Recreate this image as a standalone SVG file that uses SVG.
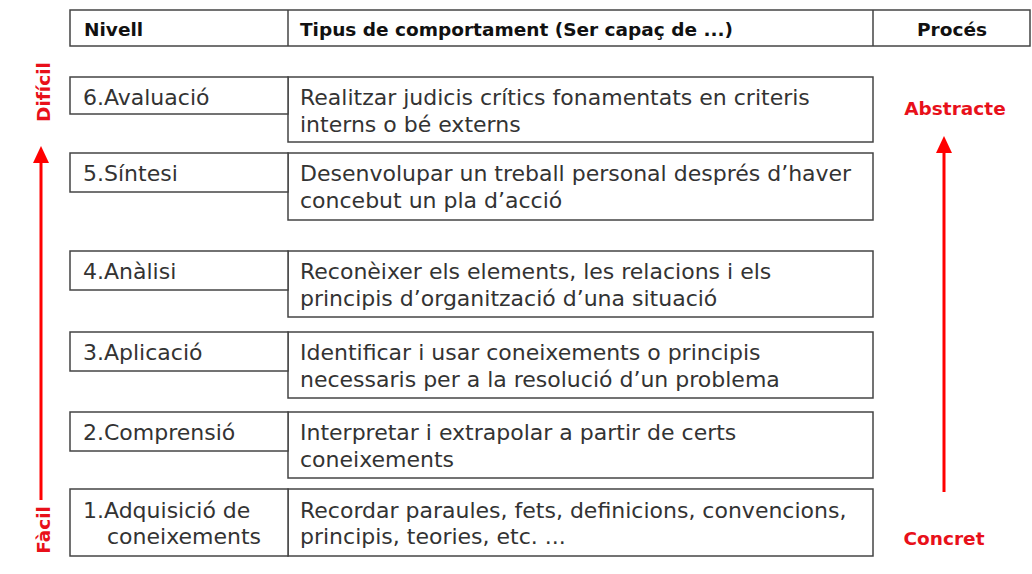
<svg xmlns="http://www.w3.org/2000/svg" width="1032" height="574" viewBox="0 0 1032 574">
<style>
.box{fill:#fff;stroke:#444;stroke-width:1.5}
.h{font-family:"DejaVu Sans",Verdana,sans-serif;font-weight:bold;font-size:18.5px;fill:#111}
.t{font-family:"DejaVu Sans",Verdana,sans-serif;font-size:22px;fill:#333}
.r{font-family:"DejaVu Sans",Verdana,sans-serif;font-weight:bold;font-size:18.5px;fill:#e8101a}
.arr{stroke:#f00;stroke-width:3;fill:none}
</style>
<rect width="1032" height="574" fill="#fff"/>
<g id="header">
<rect class="box" x="70" y="10" width="960" height="36"/>
<line x1="288" y1="10" x2="288" y2="46" stroke="#444" stroke-width="1.5"/>
<line x1="873" y1="10" x2="873" y2="46" stroke="#444" stroke-width="1.5"/>
<text class="h" x="84" y="36">Nivell</text>
<text class="h" x="300" y="36">Tipus de comportament (Ser capaç de ...)</text>
<text class="h" x="952" y="36" text-anchor="middle">Procés</text>
</g>
<g id="n6">
<rect class="box" x="288" y="77" width="585" height="65"/>
<rect class="box" x="70" y="77" width="218" height="37"/>
<text class="t" x="83" y="105">6.Avaluació</text>
<text class="t" x="300" y="105">Realitzar judicis crítics fonamentats en criteris</text>
<text class="t" x="300" y="132">interns o bé externs</text>
</g>
<g id="n5">
<rect class="box" x="288" y="153" width="585" height="67"/>
<rect class="box" x="70" y="153" width="218" height="39"/>
<text class="t" x="83" y="181">5.Síntesi</text>
<text class="t" x="300" y="181">Desenvolupar un treball personal després d’haver</text>
<text class="t" x="300" y="208">concebut un pla d’acció</text>
</g>
<g id="n4">
<rect class="box" x="288" y="251" width="585" height="66"/>
<rect class="box" x="70" y="251" width="218" height="39"/>
<text class="t" x="83" y="279">4.Anàlisi</text>
<text class="t" x="300" y="279">Reconèixer els elements, les relacions i els</text>
<text class="t" x="300" y="306">principis d’organització d’una situació</text>
</g>
<g id="n3">
<rect class="box" x="288" y="332" width="585" height="66"/>
<rect class="box" x="70" y="332" width="218" height="39"/>
<text class="t" x="83" y="360">3.Aplicació</text>
<text class="t" x="300" y="360">Identificar i usar coneixements o principis</text>
<text class="t" x="300" y="387">necessaris per a la resolució d’un problema</text>
</g>
<g id="n2">
<rect class="box" x="288" y="412" width="585" height="66"/>
<rect class="box" x="70" y="412" width="218" height="39"/>
<text class="t" x="83" y="440">2.Comprensió</text>
<text class="t" x="300" y="440">Interpretar i extrapolar a partir de certs</text>
<text class="t" x="300" y="467">coneixements</text>
</g>
<g id="n1">
<rect class="box" x="288" y="489" width="585" height="67"/>
<rect class="box" x="70" y="489" width="218" height="67"/>
<text class="t" x="83" y="518">1.Adquisició de</text>
<text class="t" x="107" y="544">coneixements</text>
<text class="t" x="300" y="518">Recordar paraules, fets, definicions, convencions,</text>
<text class="t" x="300" y="544">principis, teories, etc. ...</text>
</g>
<g id="connectors">
<line class="arr" x1="41" y1="500" x2="41" y2="160"/>
<path d="M33,163 L41,146 L49,163 Z" fill="#f00"/>
<line class="arr" x1="944" y1="492" x2="944" y2="150"/>
<path d="M936,153 L944,136 L952,153 Z" fill="#f00"/>
</g>
<g id="labels">
<text class="r" transform="translate(50,92) rotate(-90)" text-anchor="middle">Difícil</text>
<text class="r" transform="translate(50,530) rotate(-90)" text-anchor="middle">Fàcil</text>
<text class="r" x="955" y="115" text-anchor="middle">Abstracte</text>
<text class="r" x="944" y="545" text-anchor="middle">Concret</text>
</g>
</svg>
